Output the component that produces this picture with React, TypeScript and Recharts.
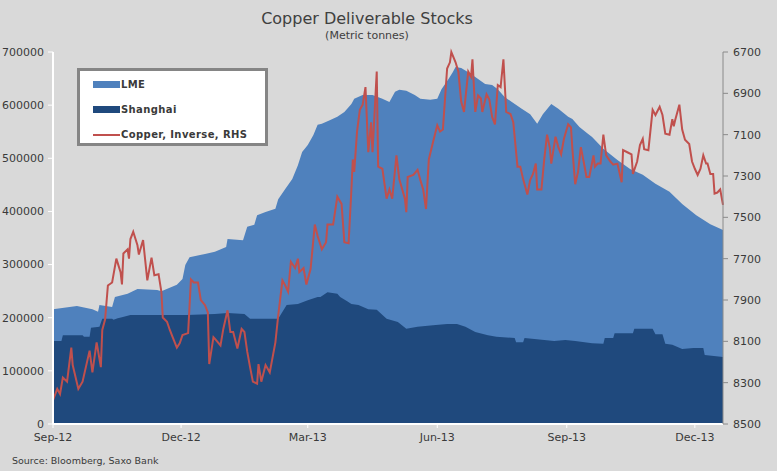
import React from 'react';
import { ComposedChart, Area, Line, XAxis, YAxis } from 'recharts';

// x = days since 1 Sep 2012
const xTickDays = [0, 91, 181, 273, 365, 456];
const xTickLabels = ['Sep-12', 'Dec-12', 'Mar-13', 'Jun-13', 'Sep-13', 'Dec-13'];
const stockTicks = [0, 100000, 200000, 300000, 400000, 500000, 600000, 700000];
const copperTicks = [6700, 6900, 7100, 7300, 7500, 7700, 7900, 8100, 8300, 8500];

const lmePoints: [number, number][] = [
  [0, 216000], [17, 222000], [28, 216000], [32, 211000], [33, 224000], [42, 220000], [44, 239000],
  [53, 245000], [60, 254000], [74, 252000], [77, 250000], [88, 262000], [92, 273000], [94, 299000],
  [97, 314000], [108, 320000], [115, 324000], [123, 333000], [124, 348000], [135, 346000], [138, 371000],
  [143, 375000], [145, 393000], [151, 399000], [158, 405000], [160, 423000], [165, 442000], [170, 461000],
  [174, 487000], [177, 512000], [181, 525000], [185, 544000], [188, 563000], [191, 565000], [197, 572000],
  [202, 578000], [207, 587000], [212, 602000], [214, 612000], [220, 619000], [227, 619000], [234, 612000],
  [239, 606000], [243, 625000], [246, 629000], [251, 627000], [257, 619000], [261, 612000], [268, 610000],
  [273, 612000], [276, 630000], [281, 649000], [284, 662000], [286, 672000], [290, 670000], [295, 662000],
  [300, 653000], [307, 640000], [312, 638000], [316, 630000], [321, 615000], [326, 606000], [333, 593000],
  [339, 583000], [344, 565000], [348, 583000], [354, 602000], [359, 593000], [366, 578000], [369, 574000],
  [374, 559000], [380, 546000], [383, 540000], [391, 518000], [401, 497000], [410, 480000], [419, 469000],
  [428, 452000], [438, 437000], [447, 414000], [457, 393000], [467, 376000], [476, 365000],
];

const shanghaiPoints: [number, number][] = [
  [0, 156000], [6, 156000], [7, 167000], [21, 167000], [22, 164000], [26, 164000], [27, 181000],
  [33, 183000], [35, 198000], [42, 198000], [43, 196000], [46, 199000], [49, 201000], [55, 205000],
  [95, 205000], [115, 207000], [124, 209000], [136, 207000], [140, 198000], [160, 198000], [166, 224000],
  [174, 226000], [181, 233000], [188, 239000], [190, 239000], [195, 248000], [202, 245000], [204, 239000],
  [209, 231000], [212, 226000], [217, 224000], [224, 216000], [230, 215000], [237, 198000], [245, 192000],
  [251, 179000], [259, 183000], [270, 186000], [280, 188000], [287, 188000], [293, 183000], [300, 173000],
  [309, 167000], [315, 164000], [328, 162000], [329, 154000], [334, 154000], [335, 162000], [342, 160000],
  [356, 156000], [364, 158000], [371, 156000], [383, 152000], [391, 151000], [392, 162000], [398, 162000],
  [399, 171000], [412, 171000], [413, 179000], [426, 179000], [428, 169000], [433, 169000], [435, 151000],
  [440, 149000], [447, 141000], [455, 143000], [462, 143000], [463, 130000], [476, 126000],
];

const copperPoints: [number, number][] = [
  [0, 8385], [3, 8330], [5, 8355], [7, 8275], [10, 8295], [13, 8130], [14, 8215], [18, 8330], [21, 8295],
  [26, 8145], [28, 8250], [31, 8105], [34, 8225], [35, 8045], [37, 7995], [39, 7830], [42, 7815], [45, 7700],
  [48, 7765], [49, 7825], [50, 7675], [53, 7655], [54, 7700], [55, 7605], [57, 7570], [60, 7635], [61, 7680],
  [64, 7610], [67, 7805], [70, 7695], [72, 7780], [75, 7775], [77, 7860], [78, 7985], [81, 8005], [83, 8045],
  [85, 8080], [88, 8130], [90, 8110], [92, 8070], [96, 8060], [98, 7800], [100, 7815], [103, 7815],
  [105, 7900], [108, 7925], [110, 7960], [111, 8210], [114, 8080], [116, 8095], [119, 8120], [121, 8040],
  [124, 7950], [126, 8055], [128, 8055], [131, 8135], [134, 8040], [136, 8055], [138, 8150], [140, 8225],
  [142, 8295], [145, 8305], [146, 8210], [148, 8295], [151, 8215], [154, 8250], [158, 8105], [160, 7975],
  [163, 7805], [165, 7830], [167, 7860], [169, 7715], [172, 7745], [174, 7700], [175, 7765], [178, 7745],
  [180, 7825], [183, 7750], [186, 7535], [188, 7590], [191, 7655], [194, 7620], [195, 7535], [199, 7535],
  [202, 7400], [205, 7435], [207, 7620], [210, 7625], [212, 7365], [213, 7220], [214, 7280], [216, 7085],
  [218, 6980], [220, 6955], [222, 6870], [224, 7185], [226, 7040], [227, 7185], [230, 6795], [231, 7255],
  [234, 7265], [237, 7410], [239, 7365], [241, 7410], [244, 7200], [246, 7315], [250, 7410], [251, 7475],
  [252, 7305], [256, 7295], [259, 7270], [261, 7320], [263, 7365], [265, 7460], [267, 7220], [270, 7135],
  [273, 7055], [275, 7085], [277, 7075], [280, 6780], [282, 6750], [283, 6700], [286, 6750], [288, 6795],
  [290, 6940], [292, 6990], [295, 6795], [297, 6820], [298, 6735], [300, 6990], [302, 6910], [304, 6925],
  [305, 6990], [308, 6905], [310, 6930], [312, 7015], [314, 7050], [316, 6860], [318, 6870], [320, 6735],
  [322, 6990], [325, 7000], [327, 7040], [330, 7255], [332, 7255], [334, 7315], [337, 7390], [339, 7320],
  [341, 7290], [343, 7240], [344, 7365], [347, 7365], [349, 7220], [351, 7100], [353, 7165], [354, 7240],
  [357, 7110], [359, 7160], [361, 7195], [363, 7120], [366, 7050], [368, 7065], [369, 7170], [371, 7340],
  [373, 7280], [375, 7160], [377, 7230], [379, 7305], [381, 7305], [384, 7200], [385, 7255], [387, 7240],
  [389, 7240], [391, 7100], [393, 7200], [396, 7230], [398, 7245], [401, 7240], [404, 7330], [405, 7175],
  [408, 7185], [411, 7195], [412, 7290], [415, 7230], [417, 7150], [419, 7120], [420, 7170], [423, 7175],
  [426, 6980], [428, 7005], [431, 6965], [433, 7005], [435, 7095], [438, 7100], [440, 7025], [441, 7060],
  [442, 7030], [445, 6955], [447, 7075], [449, 7125], [452, 7145], [454, 7230], [456, 7265], [458, 7295],
  [460, 7265], [462, 7200], [464, 7240], [465, 7240], [467, 7290], [469, 7290], [470, 7385], [472, 7380],
  [474, 7365], [476, 7440],
];

const LME_COLOR = '#4f81bd';
const SHANGHAI_COLOR = '#1f497d';
const COPPER_COLOR = '#c0504d';
const TEXT = '#3a3a3a';

function buildRows() {
  const rows = new Map<number, Record<string, number>>();
  const add = (points: [number, number][], key: string) => {
    points.forEach(([day, v]) => {
      const row = rows.get(day) ?? { day };
      row[key] = v;
      rows.set(day, row);
    });
  };
  add(lmePoints, 'lme');
  add(shanghaiPoints, 'shanghai');
  add(copperPoints, 'copper');
  return [...rows.values()].sort((a, b) => a.day - b.day);
}

const legendItems = [
  { label: 'LME', color: LME_COLOR, kind: 'box' },
  { label: 'Shanghai', color: SHANGHAI_COLOR, kind: 'box' },
  { label: 'Copper, Inverse, RHS', color: COPPER_COLOR, kind: 'line' },
];

function LegendBox() {
  return (
    <div
      style={{
        position: 'absolute',
        left: 77,
        top: 68,
        width: 191,
        height: 78,
        background: '#fff',
        border: '3px solid #858585',
        boxSizing: 'border-box',
        paddingTop: 1,
        zIndex: 2,
      }}
    >
      {legendItems.map((it) => (
        <div key={it.label} style={{ display: 'flex', alignItems: 'center', height: 25, marginLeft: 13 }}>
          <div
            style={{
              width: 27,
              height: it.kind === 'box' ? 7 : 2,
              background: it.color,
            }}
          />
          <span style={{ fontSize: 10, fontWeight: 'bold', color: TEXT, marginLeft: 1, letterSpacing: 0.4 }}>
            {it.label}
          </span>
        </div>
      ))}
    </div>
  );
}

export default function App() {
  const data = buildRows();
  const tickStyle = { fill: TEXT, fontSize: 11, fontFamily: 'DejaVu Sans' };

  return (
    <div
      style={{
        position: 'absolute',
        left: 0,
        top: 0,
        width: 777,
        height: 471,
        background: '#d9d9d9',
        fontFamily: 'DejaVu Sans',
        overflow: 'hidden',
      }}
    >
      <div style={{ position: 'absolute', left: 0, width: 734, top: 9, textAlign: 'center', fontSize: 16, color: '#404040' }}>
        Copper Deliverable Stocks
      </div>
      <div style={{ position: 'absolute', left: 0, width: 734, top: 29, textAlign: 'center', fontSize: 11, color: '#404040' }}>
        (Metric tonnes)
      </div>
      <ComposedChart width={777} height={471} data={data} margin={{ top: 52, right: 0, bottom: 17, left: 0 }}>
        <XAxis
          dataKey="day"
          type="number"
          domain={[0, 476]}
          ticks={xTickDays}
          tickFormatter={(d: number) => xTickLabels[xTickDays.indexOf(d)]}
          height={30}
          tick={tickStyle}
          tickSize={4}
          tickMargin={5}
          axisLine={{ stroke: '#ffffff', strokeWidth: 2 }}
          tickLine={{ stroke: '#ffffff' }}
          interval={0}
        />
        <YAxis
          yAxisId="left"
          domain={[0, 700000]}
          ticks={stockTicks}
          width={53}
          tick={tickStyle}
          tickSize={5}
          tickMargin={4}
          axisLine={{ stroke: '#ffffff', strokeWidth: 2 }}
          tickLine={{ stroke: '#ffffff' }}
          interval={0}
        />
        <YAxis
          yAxisId="right"
          orientation="right"
          reversed
          domain={[6700, 8500]}
          ticks={copperTicks}
          width={54}
          tick={tickStyle}
          tickSize={5}
          tickMargin={5}
          axisLine={{ stroke: '#8a8a8a' }}
          tickLine={{ stroke: '#8a8a8a' }}
          interval={0}
        />
        <Area
          yAxisId="left"
          dataKey="lme"
          type="linear"
          fill={LME_COLOR}
          fillOpacity={1}
          stroke="none"
          connectNulls
          isAnimationActive={false}
        />
        <Area
          yAxisId="left"
          dataKey="shanghai"
          type="linear"
          fill={SHANGHAI_COLOR}
          fillOpacity={1}
          stroke="none"
          connectNulls
          isAnimationActive={false}
        />
        <Line
          yAxisId="right"
          dataKey="copper"
          type="linear"
          stroke={COPPER_COLOR}
          strokeWidth={2}
          dot={false}
          connectNulls
          isAnimationActive={false}
        />
      </ComposedChart>
      <LegendBox />
      <div style={{ position: 'absolute', left: 12, top: 455, fontSize: 9.5, color: TEXT }}>
        Source: Bloomberg, Saxo Bank
      </div>
    </div>
  );
}
